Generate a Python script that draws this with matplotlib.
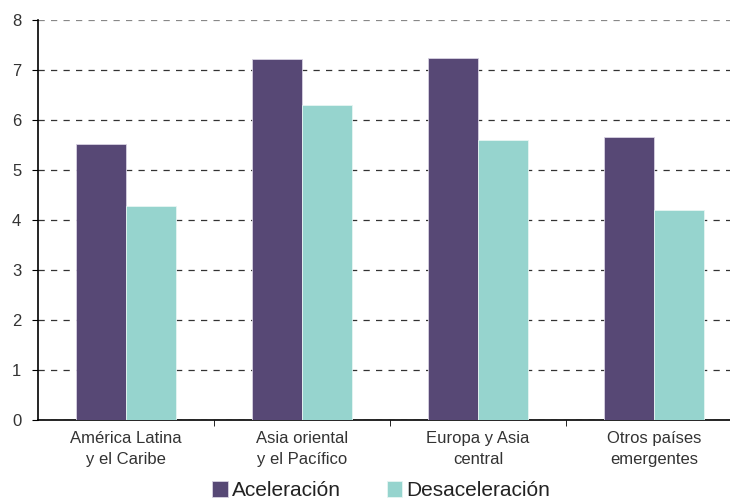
import matplotlib.pyplot as plt
import numpy as np

plt.rcParams['font.family'] = ['Liberation Sans', 'DejaVu Sans']

categories = ['América Latina\ny el Caribe', 'Asia oriental\ny el Pacífico',
              'Europa y Asia\ncentral', 'Otros países\nemergentes']
aceleracion = [5.52, 7.22, 7.24, 5.66]
desaceleracion = [4.28, 6.30, 5.60, 4.20]

fig = plt.figure(figsize=(7.30, 5.01), dpi=100)
ax = fig.add_axes([38 / 730, 81 / 501, 692 / 730, 400 / 501])

x = np.arange(len(categories))
w = 0.285
ax.bar(x - w / 2, aceleracion, w, color='#574875', edgecolor='#d8d2e2', linewidth=0.6,
       label='Aceleración', zorder=3)
ax.bar(x + w / 2, desaceleracion, w, color='#96d4ce', edgecolor='#e6f5f3', linewidth=0.6,
       label='Desaceleración', zorder=3)

ax.set_ylim(0, 8)
ax.set_xlim(-0.5, 3.432)
ax.set_yticks(range(0, 9))
ax.yaxis.grid(True, linestyle=(0, (5, 5)), color='#333333', linewidth=0.9)
ax.get_ygridlines()[-1].set_color('#888888')
ax.set_axisbelow(True)

ax.set_xticks(x)
ax.set_xticklabels(categories, fontsize=12, color='#333333', linespacing=1.45)
ax.set_xticks([0.5, 1.5, 2.5], minor=True)
ax.tick_params(axis='x', which='major', length=0, pad=8)
ax.tick_params(axis='x', which='minor', length=4, direction='out')
ax.tick_params(axis='y', labelsize=12, length=4, pad=8, labelcolor='#333333')

for s in ['top', 'right']:
    ax.spines[s].set_visible(False)
for s in ['left', 'bottom']:
    ax.spines[s].set_linewidth(1.2)

fig.legend(loc='lower center', bbox_to_anchor=(0.522, -0.036), ncol=2, frameon=False,
           fontsize=15, handlelength=0.75, handleheight=0.75, handletextpad=0.2,
           columnspacing=2.2, labelcolor='#222222')

fig.savefig('out.png', dpi=100)
